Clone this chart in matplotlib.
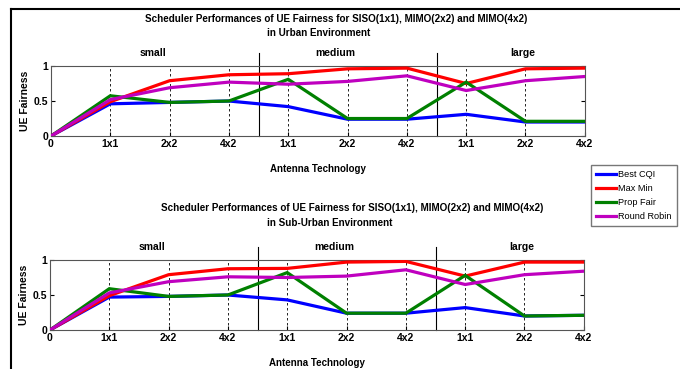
#!/usr/bin/env python

import matplotlib.pyplot as plt
from matplotlib.lines import Line2D

tick_labels = ["0", "1x1", "2x2", "4x2", "1x1", "2x2", "4x2", "1x1", "2x2", "4x2"]
groups = ["small", "medium", "large"]
group_pos = [1.72, 4.79, 7.96]
schedulers = ["Best CQI", "Max Min", "Prop Fair", "Round Robin"]
colors = ["#0000ff", "#ff0000", "#008000", "#bf00bf"]
title_top = "Scheduler Performances of UE Fairness for SISO(1x1), MIMO(2x2) and MIMO(4x2)"

# urban environment
urban_cqi = [0, 0.46, 0.48, 0.50, 0.42, 0.24, 0.24, 0.31, 0.20, 0.20]
urban_maxmin = [0, 0.49, 0.79, 0.875, 0.89, 0.96, 0.97, 0.75, 0.96, 0.97]
urban_pf = [0, 0.575, 0.48, 0.50, 0.81, 0.25, 0.25, 0.77, 0.21, 0.21]
urban_rr = [0, 0.52, 0.69, 0.77, 0.74, 0.78, 0.86, 0.65, 0.79, 0.85]

# sub-urban environment
sub_cqi = [0, 0.47, 0.48, 0.50, 0.43, 0.24, 0.24, 0.32, 0.20, 0.21]
sub_maxmin = [0, 0.49, 0.79, 0.875, 0.88, 0.97, 0.98, 0.77, 0.97, 0.97]
sub_pf = [0, 0.59, 0.48, 0.50, 0.82, 0.24, 0.24, 0.78, 0.20, 0.21]
sub_rr = [0, 0.53, 0.69, 0.76, 0.75, 0.77, 0.86, 0.65, 0.79, 0.84]

plt.rcParams["font.family"] = ["Liberation Sans", "DejaVu Sans"]
plt.rcParams["font.weight"] = "bold"


def draw(ax, series):
    x = range(len(tick_labels))
    for y, c in zip(series, colors):
        ax.plot(x, y, color=c, lw=2.3, solid_joinstyle="miter", zorder=3)
    for xi in [1, 2, 3, 4, 5, 6, 7, 8]:
        ax.axvline(xi, color="black", ls=(0, (3, 3)), lw=0.6, zorder=1)
    for xs in [3.5, 6.5]:
        ax.plot([xs, xs], [0, 1.19], color="black", lw=0.8, clip_on=False, zorder=1)
    for g, gx in zip(groups, group_pos):
        ax.text(gx, 1.12, g, ha="center", va="bottom", fontsize=7.5)
    ax.set_xlim(0, 9)
    ax.set_ylim(0, 1)
    ax.set_xticks(list(x))
    ax.set_xticklabels(tick_labels)
    ax.set_yticks([0, 0.5, 1])
    ax.set_yticklabels(["0", "0.5", "1"])
    ax.tick_params(direction="in", labelsize=7.5, length=3, right=True, pad=2)
    for s in ax.spines.values():
        s.set_color("#555555")
    ax.set_ylabel("UE Fairness", fontsize=7.5, fontweight="bold", labelpad=3)
    ax.set_xlabel("Antenna Technology", fontsize=7, fontweight="bold", labelpad=11)


fig = plt.figure(figsize=(6.8, 3.69), dpi=100)
ax1 = fig.add_axes([0.075, 0.6314, 0.785, 0.1897])
ax2 = fig.add_axes([0.0735, 0.1057, 0.785, 0.1897])
draw(ax1, [urban_cqi, urban_maxmin, urban_pf, urban_rr])
draw(ax2, [sub_cqi, sub_maxmin, sub_pf, sub_rr])

# titles, two lines each
tkw = dict(ha="center", va="center", fontsize=7.1, fontweight="bold")
fig.text(336 / 680, 1 - 19 / 369, title_top, **tkw)
fig.text(319 / 680, 1 - 33 / 369, "in Urban Environment", **tkw)
fig.text(352 / 680, 1 - 208 / 369, title_top, **tkw)
fig.text(330 / 680, 1 - 223 / 369, "in Sub-Urban Environment", **tkw)

handles = [Line2D([], [], color=c, lw=2.3) for c in colors]
fig.legend(handles, schedulers, loc="upper left", bbox_to_anchor=(0.869, 0.552),
           frameon=True, fancybox=False, edgecolor="#555555",
           handlelength=2.2, handletextpad=0.3, borderpad=0.5, labelspacing=0.55,
           borderaxespad=0, prop={"weight": "normal", "size": 6.6})

# frame lines along the top and left edge
fig.add_artist(Line2D([0.016, 1], [0.976, 0.976], color="black", lw=1.5))
fig.add_artist(Line2D([0.016, 0.016], [0, 0.976], color="black", lw=1.5))

fig.savefig("out.png", dpi=100)
